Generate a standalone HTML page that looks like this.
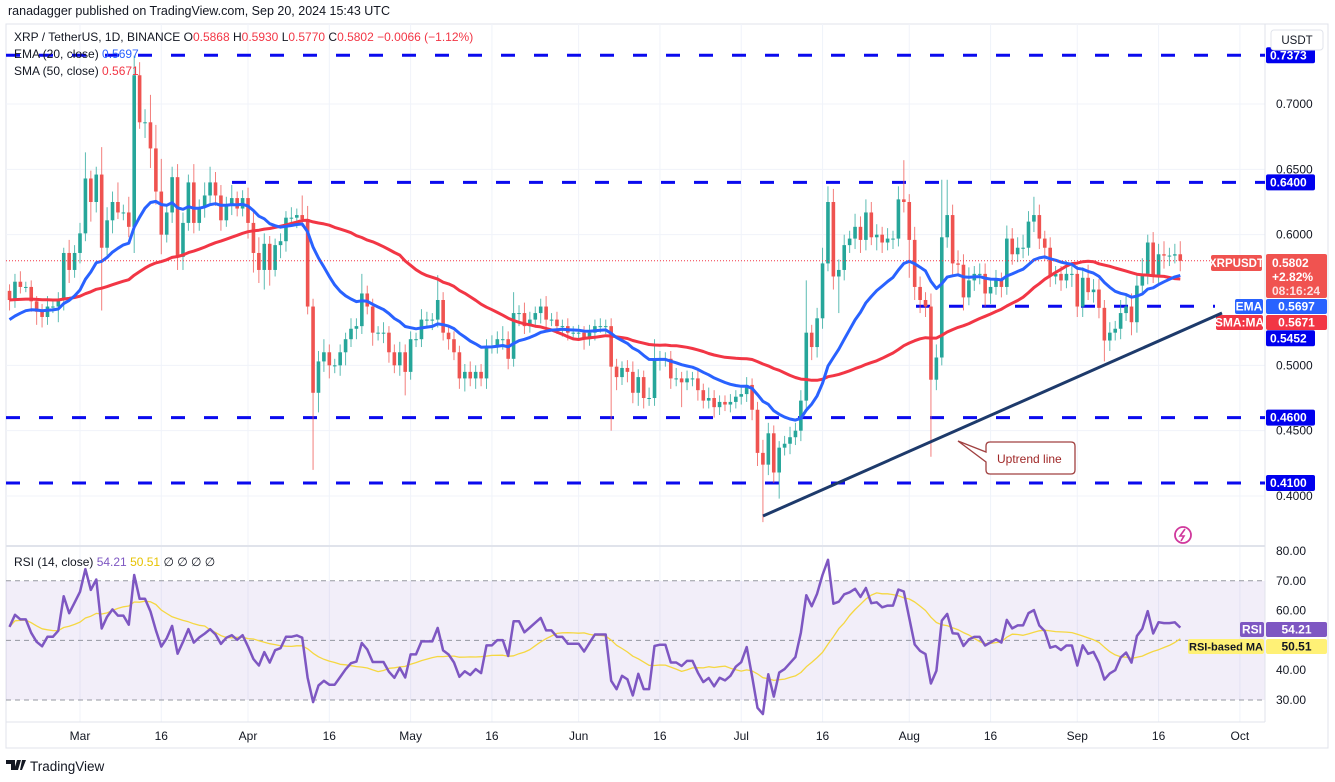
<!DOCTYPE html>
<html><head><meta charset="utf-8">
<style>
html,body{margin:0;padding:0;background:#fff;}
svg{display:block;font-family:"Liberation Sans",sans-serif;}
</style></head>
<body>
<svg id="chart" width="1335" height="782" viewBox="0 0 1335 782" xmlns="http://www.w3.org/2000/svg">
<text x="8" y="15" font-size="12.5" fill="#131722">ranadagger published on TradingView.com, Sep 20, 2024 15:43 UTC</text>
<rect x="6" y="24" width="1322" height="724" fill="#fff" stroke="#e0e3eb"/>
<g id="grid"></g>
<rect x="6" y="581" width="1259" height="119" fill="rgba(126,87,194,0.1)"/>
<line x1="6" x2="1265" y1="546" y2="546" stroke="#e0e3eb" stroke-width="2"/>
<line x1="1265" x2="1265" y1="24" y2="722" stroke="#e0e3eb"/>
<line x1="6" x2="1265" y1="722" y2="722" stroke="#e0e3eb"/>
<g id="levels"></g>
<g id="rsiG"></g>
<g id="candles"></g>
<g id="mas"></g>
<g id="axes"></g>
<line x1="763" y1="516" x2="1222" y2="313" stroke="#1d3a6b" stroke-width="3"/>
<path d="M958,441 L986,452 L986,446 Q986,442 990,442 L1071,442 Q1075,442 1075,446 L1075,470 Q1075,474 1071,474 L990,474 Q986,474 986,470 L986,462 Z" fill="#fff" stroke="#a04040" stroke-width="1.3"/>
<text x="997" y="463" font-size="12" fill="#a02828">Uptrend line</text>
<text x="14" y="41" font-size="12" fill="#131722">XRP / TetherUS, 1D, BINANCE  O<tspan fill="#f23645">0.5868</tspan>  H<tspan fill="#f23645">0.5930</tspan>  L<tspan fill="#f23645">0.5770</tspan>  C<tspan fill="#f23645">0.5802</tspan>  <tspan fill="#f23645">−0.0066 (−1.12%)</tspan></text>
<text x="14" y="58" font-size="12" fill="#131722">EMA (20, close)  <tspan fill="#2962ff">0.5697</tspan></text>
<text x="14" y="75" font-size="12" fill="#131722">SMA (50, close)  <tspan fill="#f23645">0.5671</tspan></text>
<text x="14" y="566" font-size="12" fill="#131722">RSI (14, close)  <tspan fill="#7e57c2">54.21</tspan>  <tspan fill="#e6c200">50.51</tspan>  ∅  ∅  ∅  ∅</text>
<rect x="1271" y="30" width="52" height="20" rx="3" fill="#fff" stroke="#e0e3eb"/>
<text x="1297" y="44" font-size="11.5" text-anchor="middle" fill="#131722">USDT</text>
<circle cx="1183" cy="535" r="8" fill="none" stroke="#d0389c" stroke-width="1.8"/>
<path d="M1185,529 L1180,536 L1184,536 L1181,541" stroke="#d0389c" stroke-width="1.6" fill="none"/>
<g>
<path d="M6,760 h9 v10 h-4 v-6 h-5 z M17,760 h4 l-3,10 h-4 z M22,760 h4 l-4,10 h-2 z" fill="#131722"/>
<text x="30" y="771" font-size="13.5" fill="#131722">TradingView</text>
</g>
</svg>
<script>
const closes=[
.55,.564,.56,.56,.549,.541,.537,.545,.545,.55,
.586,.573,.586,.601,.643,.625,.646,.59,.611,.625,
.617,.617,.606,.722,.686,.686,.666,.633,.60,.617,
.644,.583,.609,.64,.609,.621,.63,.64,.63,.611,
.623,.628,.62,.628,.609,.586,.573,.593,.573,.592,
.595,.613,.613,.615,.612,.545,.479,
.503,.51,.50,.50,.51,.52,.528,.53,.555,.545,
.525,.525,.525,.51,.50,.51,.495,.52,.52,.535,
.535,.535,.55,.525,.52,.51,.49,.495,.49,.495,
.49,.515,.515,.52,.52,.505,.54,.54,.53,.535,
.54,.545,.535,.535,.53,.53,.525,.525,.525,.52,
.525,.53,.53,.53,
.499,
.491,.498,.495,.479,.491,.475,.475,.504,.505,.505,
.49,.49,.487,.49,.49,.481,.473,.475,.468,.472,
.47,.472,.476,.478,.485,.466,.433,.424,.448,.418,
.437,.44,.445,.45,.473,.525,.514,.536,.578,.625,
.568,.573,.592,.597,.606,.596,.617,.598,.60,.594,
.597,.597,.627,.625,.596,.56,.55,.545,.489,
.506,.598,.615,.578,.577,.552,.565,.57,.57,.555,
.56,.565,.56,.597,.585,.59,.59,.61,.615,.597,
.59,.568,.57,.565,.57,.57,.545,.567,.556,.558,
.544,.519,.525,.528,.54,.545,.533,.561,.57,.594,
.569,.585,.584,.584,.585,.580];
const hiWick=[
5,6,8,4,5,4,6,8,5,6, 4,10,6,8,20,6,6,21,10,8, 15,6,12,15,10,10,21,18,25,6,
8,10,8,6,14,6,10,12,8,8, 6,10,5,6,8,10,12,8,6,5, 6,5,8,5,15,10,6,
8,10,6,5,6,5,8,6,15,6, 6,5,8,5,6,8,6,6,5,8, 6,5,19,6,5,6,5,6,8,5,
6,5,8,6,10,6,16,6,8,6, 5,6,8,5,6,5,6,5,6,5, 6,5,6,5,
6,6,5,6,8,6,5,8,16,6, 5,6,8,5,6,5,6,5,8,6, 5,5,6,5,5,6,5,6,10,8,
6,5,6,8,6,8,40,6,8,12, 12,10,8,8,6,10,8,10,8,8, 6,8,6,10,30,6,10,8,6,10,
10,44,27,8,10,8,10,6,8,8, 6,8,6,10,8,8,10,8,14,8, 6,8,6,6,10,8,6,8,10,8,
8,6,8,6,10,8,10,8,12,6, 8,8,10,6,8,10];
const loWick=[
8,6,5,4,8,10,8,6,5,12, 8,10,6,8,6,15,8,48,6,10, 5,6,8,20,5,12,15,10,15,6,
8,10,10,6,8,6,8,6,8,8, 5,8,6,6,12,15,10,15,12,5, 10,8,6,8,6,6,59,
15,8,10,6,8,10,6,8,6,6, 10,6,8,8,6,8,18,6,6,6, 5,8,6,6,8,6,8,10,6,8,
6,8,6,6,8,8,6,10,6,5, 6,8,6,5,6,8,6,5,6,8, 5,6,5,6,
49,10,6,8,8,10,8,6,6,8, 6,8,6,19,6,6,8,6,6,8, 6,5,6,5,6,6,8,10,44,8,
8,20,6,8,6,8,8,10,8,8, 6,10,28,8,6,8,10,8,6,10, 8,6,8,6,8,29,10,10,8,59,
8,6,8,10,8,10,6,8,8,10, 8,6,8,6,8,6,8,6,8,8, 10,8,6,8,6,10,8,8,6,8,
8,16,8,6,8,6,10,8,6,8, 6,8,10,8,6,8];
const priceTicks=[0.70,0.65,0.60,0.50,0.45,0.40];
const rsiTicks=[80,70,60,40,30];
const timeLabels=["Mar","16","Apr","16","May","16","Jun","16","Jul","16","Aug","16","Sep","16","Oct"];
const timeIdx=[13,28,44,59,74,89,105,120,135,150,166,181,197,212,227];
const levelValues=[0.7373,0.64,0.5452,0.46,0.41];

const NS="http://www.w3.org/2000/svg";
const xI=i=>80+(i-13)*5.42;
const yP=p=>104+(0.7-p)*1306.7;
const yR=r=>551+(80-r)*2.98;
function mk(tag,attrs,parent){const e=document.createElementNS(NS,tag);for(const k in attrs)e.setAttribute(k,attrs[k]);parent.appendChild(e);return e;}
const grid=document.getElementById('grid'),axes=document.getElementById('axes');
timeIdx.forEach((ti,k)=>{
  const l=mk('line',{x1:xI(ti),x2:xI(ti),y1:24,y2:722,stroke:'#f0f3fa'},grid);
  
  
  const t=mk('text',{x:xI(ti),y:740,'font-size':12,'text-anchor':'middle',fill:'#131722'},axes);
  t.textContent=timeLabels[k];
  
  
});
priceTicks.forEach(p=>{
  const l=mk('line',{x1:6,x2:1265,y1:yP(p),y2:yP(p),stroke:'#f0f3fa'},grid);
  
  
  const t=mk('text',{x:1276,y:yP(p)+4,'font-size':12,fill:'#131722'},axes);
  t.textContent=p.toFixed(4);
  
  
});
rsiTicks.forEach(r=>{
  const t=mk('text',{x:1276,y:yR(r)+4,'font-size':12,fill:'#131722'},axes);
  t.textContent=r.toFixed(2);
  
  
});
// levels
const lv=document.getElementById('levels');
const levelRanges=[[6,1265],[232,1265],[916,1215],[6,1265],[6,1265]];
levelValues.forEach((v,k)=>{
  const l=mk('line',{x1:levelRanges[k][0],x2:levelRanges[k][1],y1:yP(v),y2:yP(v),stroke:'#0a0aee','stroke-width':3,'stroke-dasharray':'14 19'},lv);
  
  
  const off=(k==2?32:0);
  const r=mk('rect',{x:1266,y:yP(v)-8+off,width:49,height:16,rx:2,fill:'#0000ee'},axes);
  
  
  const t=mk('text',{x:1270,y:yP(v)+4+off,'font-size':12,'font-weight':'bold',fill:'#fff'},axes);
  t.textContent=v.toFixed(4);
  
  
});
// rsi dashed lines
const rg=document.getElementById('rsiG');
[70,50,30].forEach(r=>{
  const l=mk('line',{x1:6,x2:1265,y1:yR(r),y2:yR(r),stroke:'#9598a1','stroke-dasharray':'5 4'},rg);
  
  
});
// price line
const pl=mk('line',{x1:6,x2:1212,y1:yP(closes[closes.length-1]),y2:yP(closes[closes.length-1]),stroke:'#f23645','stroke-dasharray':'1 2'},axes);


// candles
const cg=document.getElementById('candles');
closes.forEach((c,i)=>{
  const o=i?closes[i-1]:0.557;
  const up=c>=o, col=up?'#26a69a':'#ef5350';
  const hi=Math.max(o,c)+hiWick[i]/1000, lo=Math.min(o,c)-loWick[i]/1000;
  const x=xI(i);
  const w=mk('line',{x1:x,x2:x,y1:yP(hi),y2:yP(lo),stroke:col,'stroke-width':1,opacity:0.75},cg);
  
  
  const yt=yP(Math.max(o,c)), yb=yP(Math.min(o,c));
  const b=mk('rect',{x:x-1.8,y:yt,width:3.6,height:Math.max(1,yb-yt),fill:col},cg);
  
  
});
// MAs
const ema=[],sma=[];let e=0.535;
closes.forEach((c,i)=>{e=i?e+(c-e)*2/21:0.535;ema.push(e);
  const s=closes.slice(Math.max(0,i-49),i+1);const pre=Math.max(0,50-s.length);
  sma.push((s.reduce((a,b)=>a+b,0)+pre*0.55)/50);});
const mg=document.getElementById('mas');
function poly(arr,fy,col,name,parent,wd){
  const p=mk('polyline',{points:arr.map((v,i)=>xI(i).toFixed(1)+','+fy(v).toFixed(1)).join(' '),fill:'none',stroke:col,'stroke-width':wd,'stroke-linejoin':'round'},parent);
  
  
}
poly(sma,yP,'#f23645','sma-50-line',mg,3);
poly(ema,yP,'#2962ff','ema-20-line',mg,3);
// RSI
let ag=0.006,al=0.005;const rsi=[];
closes.forEach((c,i)=>{if(i){const d=c-closes[i-1];ag=(ag*13+Math.max(d,0))/14;al=(al*13+Math.max(-d,0))/14;}rsi.push(100-100/(1+ag/al));});
const rma=rsi.map((v,i)=>{const s=rsi.slice(Math.max(0,i-13),i+1);return s.reduce((a,b)=>a+b,0)/s.length;});
poly(rma,yR,'#f5d742','rsi-ma-line',rg,1.3);
poly(rsi,yR,'#7e57c2','rsi-line',rg,2.5);
// right labels
function lbl(x,y,w,h,bg,txt,fg,name,fs){
  const r=mk('rect',{x:x,y:y,width:w,height:h,rx:2,fill:bg},axes);
  
  
  const t=mk('text',{x:x+w/2,y:y+h/2+4,'font-size':fs||12,'text-anchor':'middle',fill:fg,'font-weight':'bold'},axes);
  t.textContent=txt;
  
  
}
lbl(1211,255,51,16,'#f05350','XRPUSDT','#fff','symbol-tag',11.5);
const pb=mk('rect',{x:1266,y:254,width:61,height:44,rx:2,fill:'#f05350'},axes);


[['0.5802',267,'#fff'],['+2.82%',281,'#fff'],['08:16:24',295,'#fde0e0']].forEach(a=>{
  const t=mk('text',{x:1272,y:a[1],'font-size':12,'font-weight':'bold',fill:a[2]},axes);t.textContent=a[0];
  
  
});
lbl(1235,299,28,15,'#2962ff','EMA','#fff','ema-tag');
lbl(1266,299,61,15,'#2962ff','0.5697','#fff','ema-value');
lbl(1216,315,47,15,'#f23645','SMA:MA','#fff','sma-tag');
lbl(1266,315,61,15,'#f23645','0.5671','#fff','sma-value');
lbl(1240,622,24,15,'#7e57c2','RSI','#fff','rsi-tag');
lbl(1266,622,61,15,'#7e57c2','54.21','#fff','rsi-value');
lbl(1188,639,76,15,'#fff176','RSI-based MA','#131722','rsi-ma-tag',11);
lbl(1266,639,61,15,'#fff176','50.51','#131722','rsi-ma-value');
</script>
</body></html>
